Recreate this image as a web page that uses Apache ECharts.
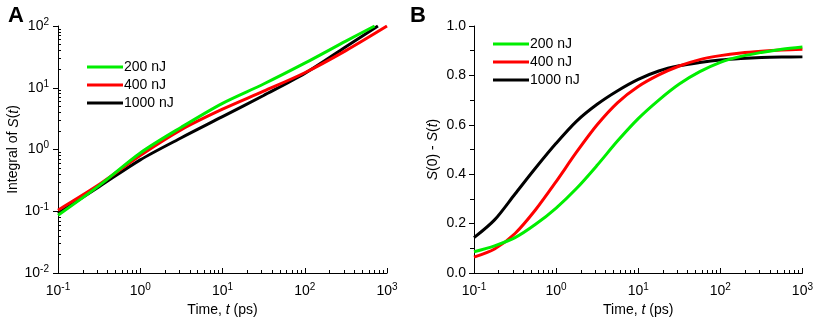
<!DOCTYPE html>
<html>
<head>
<meta charset="utf-8">
<script src="https://cdn.jsdelivr.net/npm/echarts@6/dist/echarts.min.js"></script>
<style>
    html, body { margin: 0; padding: 0; background: #fff; }
    #chart { width: 816px; height: 322px; }
</style>
</head>
<body>
<div id="chart"></div>
<script>
// 图例名称
var seriesNames = ['200 nJ', '400 nJ', '1000 nJ'];
var seriesColors = ['#00ee00', '#ff0000', '#000000'];

// A: Integral of S(t)
var timeA200 = [0.1, 0.316, 1, 3.16, 10, 31.6, 100, 316, 708];
var integral200 = [0.086, 0.26, 0.88, 2.3, 5.6, 11.5, 25, 57, 100];
var timeA400 = [0.1, 0.316, 1, 3.16, 10, 31.6, 100, 316, 1000];
var integral400 = [0.104, 0.27, 0.8, 2.1, 4.5, 8.8, 17.5, 40, 100];
var timeA1000 = [0.1, 0.316, 1, 3.16, 10, 31.6, 100, 316, 776];
var integral1000 = [0.093, 0.25, 0.68, 1.55, 3.4, 7.5, 17, 46, 100];

// B: S(0) - S(t)
var timeB = [0.1, 0.178, 0.316, 0.562, 1, 1.78, 3.16, 5.62, 10, 17.8, 31.6, 56.2, 100, 178, 316, 562, 1000];
var decay200 = [0.086, 0.11, 0.143, 0.197, 0.263, 0.343, 0.436, 0.535, 0.625, 0.70, 0.765, 0.815, 0.853, 0.877, 0.893, 0.906, 0.915];
var decay400 = [0.064, 0.097, 0.16, 0.256, 0.37, 0.49, 0.60, 0.69, 0.755, 0.802, 0.838, 0.864, 0.88, 0.891, 0.898, 0.903, 0.906];
var decay1000 = [0.143, 0.215, 0.32, 0.425, 0.525, 0.615, 0.683, 0.738, 0.784, 0.818, 0.839, 0.852, 0.862, 0.868, 0.872, 0.874, 0.875];

// 刻度
var yTicksB = [0, 0.2, 0.4, 0.6, 0.8, 1.0];
var minorTicksX = [0.2, 0.3, 0.4, 0.5, 0.6, 0.7, 0.8, 0.9,
    2, 3, 4, 5, 6, 7, 8, 9,
    20, 30, 40, 50, 60, 70, 80, 90,
    200, 300, 400, 500, 600, 700, 800, 900];
var minorTicksYA = [0.02, 0.03, 0.04, 0.05, 0.06, 0.07, 0.08, 0.09,
    0.2, 0.3, 0.4, 0.5, 0.6, 0.7, 0.8, 0.9,
    2, 3, 4, 5, 6, 7, 8, 9,
    20, 30, 40, 50, 60, 70, 80, 90];

var FONT = 'Liberation Sans';

function pairs(xs, ys) {
    return xs.map(function (x, i) { return [x, ys[i]]; });
}

function powLabel(v) {
    var e = Math.round(Math.log10(v));
    return '10{sup|' + e + '}';
}

var labelRich = {
    sup: { fontSize: 10, verticalAlign: 'top', padding: [0, 0, 8, 0], color: '#000', fontFamily: FONT }
};

function logAxis(gridIndex, min, max, tickInside, extra) {
    var axis = {
        type: 'log',
        gridIndex: gridIndex,
        min: min,
        max: max,
        logBase: 10,
        axisLine: { lineStyle: { color: '#000', width: 1 } },
        axisTick: { inside: tickInside, length: 5, lineStyle: { color: '#000' } },
        splitLine: { show: false },
        axisLabel: {
            color: '#000', fontSize: 14, fontFamily: FONT, margin: 9,
            formatter: powLabel, rich: labelRich
        }
    };
    for (var k in extra) axis[k] = extra[k];
    return axis;
}

// 次刻度用一根叠加的空轴画出
function minorLogAxis(gridIndex, min, max, values, position) {
    return {
        type: 'log', gridIndex: gridIndex, min: min, max: max, logBase: 10,
        position: position,
        axisLine: { show: false },
        axisLabel: { show: false },
        splitLine: { show: false },
        axisTick: { show: true, inside: true, length: 3, customValues: values, lineStyle: { color: '#000' } }
    };
}

var nameRich = {
    i: { fontStyle: 'italic', fontSize: 14, color: '#000', fontFamily: FONT },
    n: { fontSize: 14, color: '#000', fontFamily: FONT }
};

var chart = echarts.init(document.getElementById('chart'));

var series = [];
[[timeA200, integral200], [timeA400, integral400], [timeA1000, integral1000]].forEach(function (d, i) {
    series.push({
        name: seriesNames[i], type: 'line', xAxisIndex: 0, yAxisIndex: 0,
        data: pairs(d[0], d[1]), smooth: 0.3, showSymbol: false,
        lineStyle: { color: seriesColors[i], width: 3 }, itemStyle: { color: seriesColors[i] },
        z: 3 - i
    });
});
[decay200, decay400, decay1000].forEach(function (d, i) {
    series.push({
        name: seriesNames[i], type: 'line', xAxisIndex: 1, yAxisIndex: 1,
        data: pairs(timeB, d), smooth: 0.3, showSymbol: false,
        lineStyle: { color: seriesColors[i], width: 3 }, itemStyle: { color: seriesColors[i] },
        z: 3 - i
    });
});

var legendCommon = {
    orient: 'vertical', itemWidth: 36, itemHeight: 3, itemGap: 4,
    icon: 'rect',
    textStyle: { color: '#000', fontSize: 14, fontFamily: FONT, padding: [0, 0, 0, -4] },
    data: seriesNames
};

var xName = '{n|Time, }{i|t}{n| (ps)}';

var option = {
    animation: false,
    textStyle: { fontFamily: FONT },
    title: [
        { text: 'A', left: 3, top: 0, textStyle: { fontSize: 22, fontWeight: 'bold', color: '#000', fontFamily: FONT } },
        { text: 'B', left: 405, top: 0, textStyle: { fontSize: 22, fontWeight: 'bold', color: '#000', fontFamily: FONT } }
    ],
    legend: [
        Object.assign({ left: 82, top: 55 }, legendCommon),
        Object.assign({ left: 488, top: 32 }, legendCommon)
    ],
    grid: [
        { left: 58, right: 429, top: 26, bottom: 45 },
        { left: 474, right: 12, top: 26, bottom: 45 }
    ],
    xAxis: [
        logAxis(0, 0.1, 1000, true, {
            position: 'bottom',
            name: xName, nameLocation: 'middle', nameGap: 30, nameTextStyle: { rich: nameRich }
        }),
        logAxis(1, 0.1, 1000, true, {
            position: 'bottom',
            name: xName, nameLocation: 'middle', nameGap: 30, nameTextStyle: { rich: nameRich }
        }),
        minorLogAxis(0, 0.1, 1000, minorTicksX, 'bottom'),
        minorLogAxis(1, 0.1, 1000, minorTicksX, 'bottom')
    ],
    yAxis: [
        logAxis(0, 0.01, 100, false, {
            position: 'left',
            name: '{n|Integral of }{i|S}{n|(}{i|t}{n|)}', nameLocation: 'middle', nameGap: 34,
            nameTextStyle: { rich: nameRich }
        }),
        {
            type: 'value', gridIndex: 1, position: 'left',
            min: yTicksB[0], max: yTicksB[yTicksB.length - 1], interval: 0.2,
            name: '{i|S}{n|(0) - }{i|S}{n|(}{i|t}{n|)}', nameLocation: 'middle', nameGap: 34,
            nameTextStyle: { rich: nameRich },
            axisLine: { show: true, lineStyle: { color: '#000', width: 1 } },
            axisTick: { show: true, inside: false, length: 5, lineStyle: { color: '#000' } },
            minorTick: { show: true, splitNumber: 2, length: 4, lineStyle: { color: '#000' } },
            splitLine: { show: false },
            axisLabel: {
                color: '#000', fontSize: 14, fontFamily: FONT,
                formatter: function (v) { return v.toFixed(1); }
            }
        },
        minorLogAxis(0, 0.01, 100, minorTicksYA, 'left')
    ],
    series: series
};

chart.setOption(option);
</script>
</body>
</html>
